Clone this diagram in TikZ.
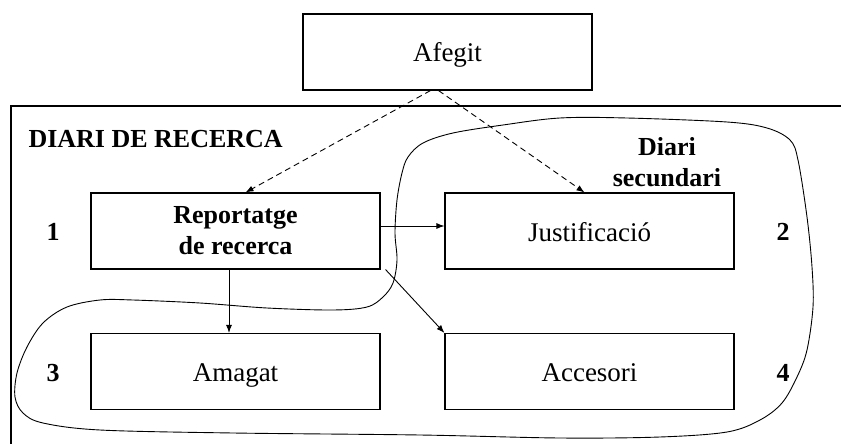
\documentclass[tikz,border=0pt]{standalone}
\usepackage{fontspec}
\setmainfont{Liberation Serif}
\usetikzlibrary{arrows.meta}

\begin{document}
\begin{tikzpicture}[x=1pt, y=-1pt, >={Latex[length=8pt,width=6pt]},
    caixa/.style={draw, line width=1.1pt, minimum width=289pt, minimum height=76pt,
        font=\fontsize{27}{31}\selectfont},
    senzilla/.style={caixa, text height=20pt, text depth=0pt},
    negreta/.style={font=\fontsize{26}{31}\selectfont\bfseries, align=center},
    fletxa/.style={->, line width=0.9pt},
    puntejat/.style={->, line width=0.9pt, dash pattern=on 6pt off 4pt}]
    \useasboundingbox (0, 0) rectangle (841, 444);

    % Outer frame (runs off the right and bottom edges)
    \draw[line width=1.1pt] (841, 106) -- (11, 106) -- (11, 444);
    \node[negreta, anchor=base west] (titol) at (25, 147) {DIARI DE RECERCA};

    % Boxes
    \node[senzilla] (afegit) at (447.5, 52) {Afegit};
    \node[caixa, negreta] (report) at (235.5, 231) {Reportatge\\de recerca};
    \node[senzilla] (justif) at (589.5, 231) {Justificació};
    \node[senzilla] (amagat) at (235.5, 371.5) {Amagat};
    \node[senzilla] (acces) at (589.5, 371.5) {Accesori};

    % Numbers
    \node[negreta] (n1) at (53, 232) {1};
    \node[negreta] (n2) at (783, 232) {2};
    \node[negreta] (n3) at (53, 373) {3};
    \node[negreta] (n4) at (783, 373) {4};
    \node[negreta] (secund) at (667, 162) {Diari\\secundari};

    % Secondary diary outline
    \draw[line width=0.9pt] plot[smooth cycle, tension=0.55] coordinates {
        (560,118) (627,118) (727,122) (767,128) (790,140) (798,160)
        (807,217) (812,267) (813,307) (807,350) (797,377) (782,403)
        (760,420) (727,432) (660,437) (560,438) (420,435) (233,433)
        (100,430) (43,423) (23,413) (15,397) (17,373) (27,347)
        (43,323) (67,307) (100,300) (133,300) (200,303) (267,308)
        (333,310) (367,307) (383,297) (393,283) (397,260) (395,233)
        (397,200) (402,173) (408,157) (423,143) (453,133) (503,125)};

    % Connectors
    \draw[puntejat] ([xshift=-17pt]afegit.south) -- ([xshift=10pt]report.north);
    \draw[puntejat] ([xshift=-9pt]afegit.south) -- ([xshift=-5pt]justif.north);
    \draw[fletxa] ([yshift=5pt]report.east) -- ([yshift=5pt]justif.west);
    \draw[fletxa] ([xshift=-6.5pt]report.south) -- ([xshift=-6.5pt]amagat.north);
    \draw[fletxa] ([xshift=5pt]report.south east) -- (acces.north west);
\end{tikzpicture}
\end{document}
